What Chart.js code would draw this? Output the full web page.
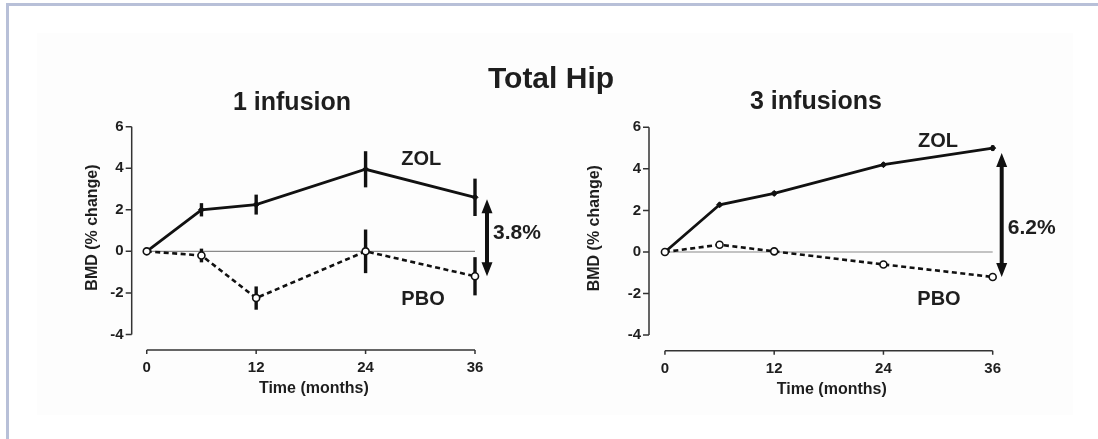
<!DOCTYPE html>
<html>
<head>
<meta charset="utf-8">
<script src="https://cdn.jsdelivr.net/npm/chart.js@4.4.1/dist/chart.umd.min.js"></script>
<style>
  body { margin: 0; width: 1098px; height: 439px; overflow: hidden; position: relative; background: #fff;
         font-family: "Liberation Sans", Arial, sans-serif; }
  .frame { position: absolute; left: 6px; top: 3px; right: 0; bottom: 0;
           border-top: 3px solid #b8c0d8; border-left: 3px solid #b8c0d8; }
  .panel { position: absolute; left: 37px; top: 33px; width: 1036px; height: 382px; background: #fdfdfd; }
  canvas { position: absolute; top: 0; }
  .title { position: absolute; font-weight: bold; color: #1e1e1e; line-height: 1; white-space: nowrap;
           transform: translateX(-50%); }
</style>
</head>
<body>
<div class="frame"></div>
<div class="panel"></div>
<canvas id="oneInfusion" width="549" height="439" style="left:0"></canvas>
<canvas id="threeInfusions" width="549" height="439" style="left:549px"></canvas>
<div class="title" style="left:551px; top:63px; font-size:30px">Total Hip</div>
<div class="title" style="left:292px; top:89px; font-size:25px">1 infusion</div>
<div class="title" style="left:816px; top:88px; font-size:25px">3 infusions</div>

<script>
// months since first infusion
const months = [0, 6, 12, 24, 36];
const xTicks = [0, 12, 24, 36];
const yTicks = [-4, -2, 0, 2, 4, 6];

// BMD % change, single infusion
const zolOne = [0, 2.0, 2.25, 3.95, 2.6];
const zolOneErr = [0, 0.32, 0.48, 0.87, 0.9];
const pboOne = [0, -0.2, -2.25, 0.0, -1.2];
const pboOneErr = [0, 0.33, 0.56, 1.05, 0.92];

// BMD % change, three infusions
const zolThree = [0, 2.27, 2.82, 4.2, 5.0];
const zolThreeErr = [0, 0.1, 0.1, 0.1, 0.13];
const pboThree = [0, 0.35, 0.03, -0.6, -1.2];
const pboThreeErr = [0, 0, 0, 0, 0];

const FONT = '"Liberation Sans", Arial, sans-serif';
const INK = '#1e1e1e';

const toPoints = (vals) => months.map((m, i) => ({ x: m, y: vals[i] }));

// Prism-style axes, error bars, series labels and the difference arrow
const prismAxes = {
    id: 'prismAxes',
    beforeDatasetsDraw(chart) {
        const { ctx } = chart;
        const xs = chart.scales.x, ys = chart.scales.y;
        const last = xTicks[xTicks.length - 1];
        ctx.save();
        ctx.strokeStyle = '#8a8a8a';
        ctx.lineWidth = 1.2;
        ctx.beginPath();
        ctx.moveTo(xs.getPixelForValue(0), ys.getPixelForValue(0));
        ctx.lineTo(xs.getPixelForValue(last), ys.getPixelForValue(0));
        ctx.stroke();

        ctx.strokeStyle = '#111';
        ctx.lineWidth = 3.4;
        chart.data.datasets.forEach(ds => {
            if (!ds.errors) return;
            ds.data.forEach((p, i) => {
                const e = ds.errors[i];
                if (!e) return;
                const px = xs.getPixelForValue(p.x);
                ctx.beginPath();
                ctx.moveTo(px, ys.getPixelForValue(p.y + e));
                ctx.lineTo(px, ys.getPixelForValue(p.y - e));
                ctx.stroke();
            });
        });
        ctx.restore();
    },
    afterDraw(chart, args, opts) {
        const { ctx } = chart;
        const xs = chart.scales.x, ys = chart.scales.y;
        const axisX = chart.chartArea.left, axisY = chart.chartArea.bottom;
        const x0 = xs.getPixelForValue(xTicks[0]);
        const x1 = xs.getPixelForValue(xTicks[xTicks.length - 1]);
        const yTop = ys.getPixelForValue(yTicks[yTicks.length - 1]);
        const yBot = ys.getPixelForValue(yTicks[0]);
        ctx.save();
        ctx.strokeStyle = '#333';
        ctx.lineWidth = 1.5;
        ctx.beginPath();
        ctx.moveTo(axisX, yTop); ctx.lineTo(axisX, yBot);
        yTicks.forEach(v => {
            const py = ys.getPixelForValue(v);
            ctx.moveTo(axisX - 6, py); ctx.lineTo(axisX, py);
        });
        ctx.moveTo(x0, axisY); ctx.lineTo(x1, axisY);
        xTicks.forEach(v => {
            const px = xs.getPixelForValue(v);
            ctx.moveTo(px, axisY); ctx.lineTo(px, axisY + 4);
        });
        ctx.stroke();

        // axis titles
        ctx.fillStyle = INK;
        ctx.font = 'bold 16px ' + FONT;
        ctx.textAlign = 'center';
        ctx.textBaseline = 'alphabetic';
        ctx.fillText('Time (months)', (x0 + x1) / 2 + 3, axisY + 43);
        ctx.save();
        ctx.translate(axisX - opts.yTitleGap, (yTop + yBot) / 2 - 3);
        ctx.rotate(-Math.PI / 2);
        ctx.textBaseline = 'middle';
        ctx.fillText('BMD (% change)', 0, 0);
        ctx.restore();

        // series names
        ctx.font = 'bold 20px ' + FONT;
        ctx.textBaseline = 'middle';
        opts.names.forEach(n => {
            ctx.fillText(n.text, xs.getPixelForValue(n.x), ys.getPixelForValue(n.y));
        });

        // arrow between the two series at the last visit
        const top = opts.zol[opts.zol.length - 1];
        const bot = opts.pbo[opts.pbo.length - 1];
        const ax = x1 + opts.arrowDx;
        const ya = ys.getPixelForValue(top) + opts.arrowInset;
        const yb = ys.getPixelForValue(bot);
        const head = 14, half = 5.5;
        ctx.strokeStyle = '#111';
        ctx.fillStyle = '#111';
        ctx.lineWidth = 4;
        ctx.beginPath();
        ctx.moveTo(ax, ya + head - 2); ctx.lineTo(ax, yb - head + 2);
        ctx.stroke();
        ctx.beginPath();
        ctx.moveTo(ax, ya); ctx.lineTo(ax - half, ya + head); ctx.lineTo(ax + half, ya + head); ctx.closePath();
        ctx.moveTo(ax, yb); ctx.lineTo(ax - half, yb - head); ctx.lineTo(ax + half, yb - head); ctx.closePath();
        ctx.fill();

        ctx.fillStyle = INK;
        ctx.font = 'bold 21px ' + FONT;
        ctx.textAlign = 'left';
        ctx.fillText((top - bot).toFixed(1) + '%', ax + 6, ys.getPixelForValue(opts.diffLabelY));
        ctx.restore();
    }
};

function makeChart(id, zol, zolErr, pbo, pboErr, layout) {
    return new Chart(document.getElementById(id), {
        type: 'line',
        data: {
            datasets: [{
                label: 'PBO',
                data: toPoints(pbo),
                errors: pboErr,
                borderColor: '#111',
                borderWidth: 2.6,
                borderDash: [5, 3.5],
                pointRadius: 3.5,
                pointBorderWidth: 1.6,
                pointBackgroundColor: '#fff',
                pointBorderColor: '#111',
                clip: false
            }, {
                label: 'ZOL',
                data: toPoints(zol),
                errors: zolErr,
                borderColor: '#111',
                borderWidth: 2.8,
                pointStyle: 'rectRot',
                pointRadius: 3,
                pointBorderWidth: 1,
                pointBackgroundColor: '#111',
                pointBorderColor: '#111',
                clip: false
            }]
        },
        options: {
            responsive: false,
            animation: false,
            devicePixelRatio: 1,
            layout: { padding: layout.padding },
            scales: {
                x: {
                    type: 'linear',
                    min: layout.xMin,
                    max: 36,
                    afterBuildTicks: s => { s.ticks = xTicks.map(v => ({ value: v })); },
                    afterFit: s => { s.height = 50; },
                    grid: { display: false, drawTicks: false },
                    border: { display: false },
                    ticks: { autoSkip: false, maxRotation: 0, padding: 9, color: INK,
                             font: { family: FONT, size: 15, weight: 'bold' } }
                },
                y: {
                    min: -4.75,
                    max: 6,
                    afterBuildTicks: s => { s.ticks = yTicks.map(v => ({ value: v })); },
                    afterFit: s => { s.width = 50; },
                    grid: { display: false, drawTicks: false },
                    border: { display: false },
                    ticks: { padding: 8, color: INK, font: { family: FONT, size: 15, weight: 'bold' } }
                }
            },
            plugins: {
                legend: { display: false },
                tooltip: { enabled: false },
                prismAxes: {
                    zol: zol,
                    pbo: pbo,
                    yTitleGap: layout.yTitleGap,
                    arrowDx: layout.arrowDx,
                    arrowInset: layout.arrowInset,
                    diffLabelY: layout.diffLabelY,
                    names: layout.names
                }
            }
        },
        plugins: [prismAxes]
    });
}

makeChart('oneInfusion', zolOne, zolOneErr, pboOne, pboOneErr, {
    padding: { left: 81.7, right: 74, top: 126.7, bottom: 39 },
    xMin: -1.65,
    yTitleGap: 39,
    arrowDx: 12,
    arrowInset: 2,
    diffLabelY: 0.85,
    names: [{ text: 'ZOL', x: 30.1, y: 4.4 }, { text: 'PBO', x: 30.3, y: -2.3 }]
});

makeChart('threeInfusions', zolThree, zolThreeErr, pboThree, pboThreeErr, {
    padding: { left: 50, right: 105.3, top: 127.3, bottom: 38.3 },
    xMin: -1.75,
    yTitleGap: 54,
    arrowDx: 9,
    arrowInset: 5,
    diffLabelY: 1.15,
    names: [{ text: 'ZOL', x: 30.0, y: 5.3 }, { text: 'PBO', x: 30.1, y: -2.3 }]
});
</script>
</body>
</html>
